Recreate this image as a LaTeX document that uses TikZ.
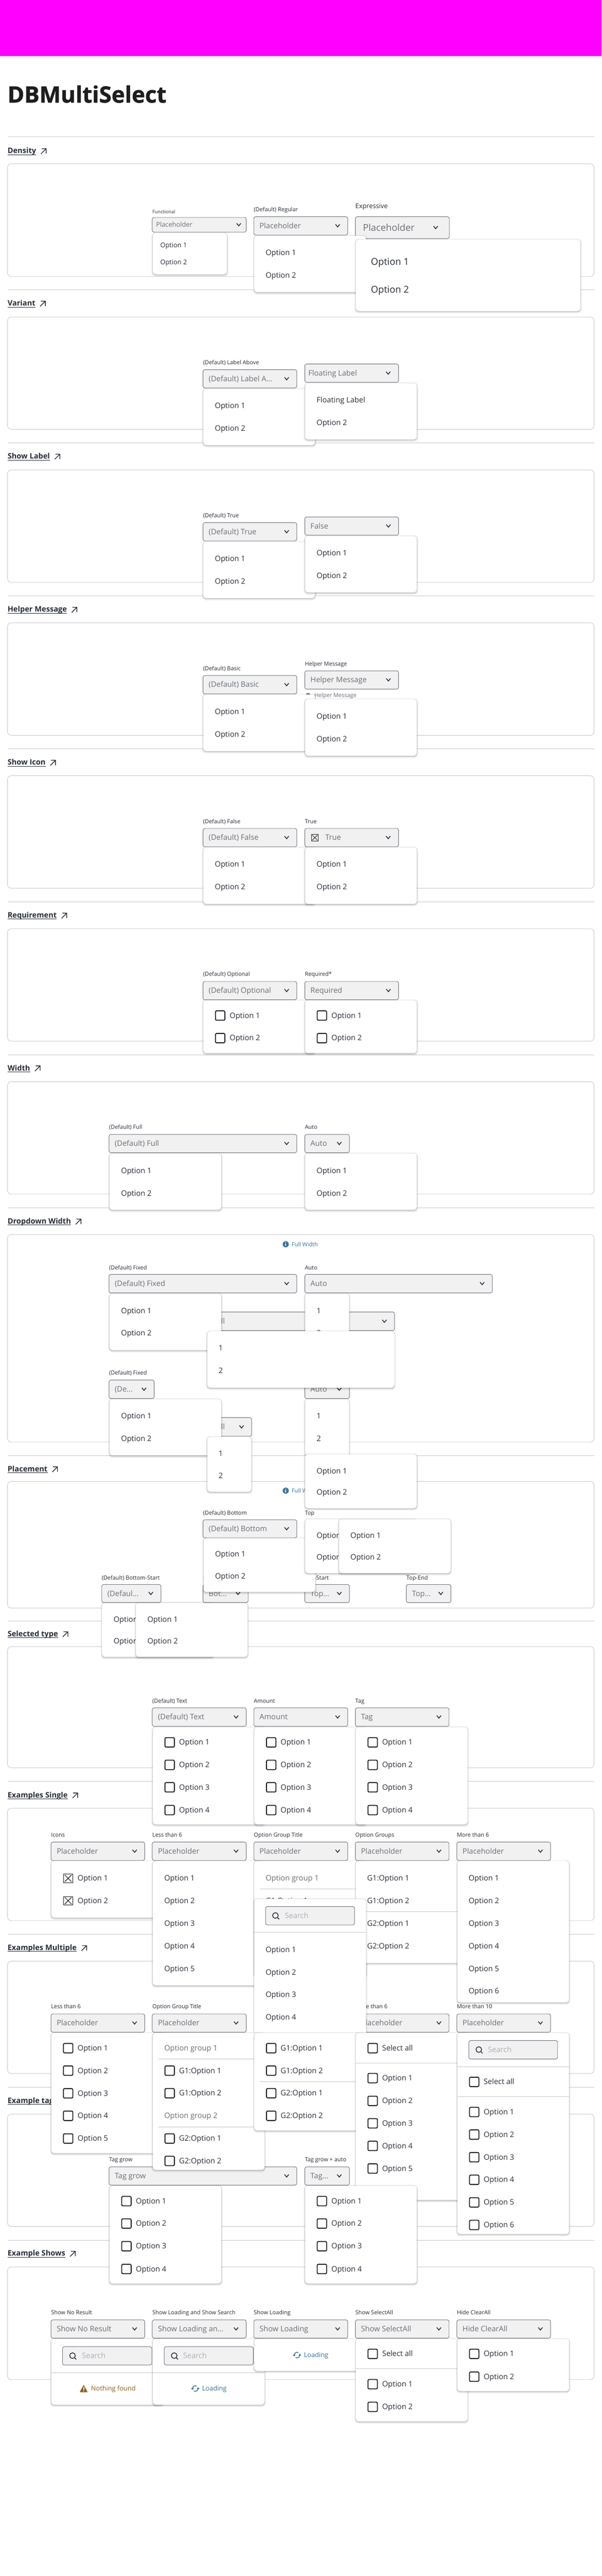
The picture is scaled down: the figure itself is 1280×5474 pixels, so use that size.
\documentclass[tikz,border=0pt]{standalone}
\usepackage{fontspec}
\setmainfont{Open Sans}
\definecolor{ink}{HTML}{282D37}
\definecolor{ph}{HTML}{6B6E75}
\definecolor{rulecol}{HTML}{C8C9CF}
\definecolor{fieldcol}{HTML}{F1F1F2}
\definecolor{fieldline}{HTML}{6E727A}
\definecolor{infocol}{HTML}{3A7595}
\definecolor{warncol}{HTML}{8F611C}
\definecolor{bandcol}{HTML}{FF00FF}
\definecolor{titlecol}{HTML}{1E1E1E}
\tikzset{
  x=1pt,y=-1pt,
  rulestyle/.style={draw=rulecol,line width=1pt},
  panelbox/.style={draw=rulecol,line width=1pt,rounded corners=8pt,fill=white},
  fieldbox/.style={draw=fieldline,line width=1pt,rounded corners=4pt,fill=fieldcol},
  popbox/.style={fill=white,rounded corners=7pt},
  chevstyle/.style={draw=ink,line width=1.7pt},
  tickbox/.style={draw=black!88,line width=2pt,rounded corners=2.5pt,fill=white},
  xbox/.style={draw=black!88,line width=1pt},
}
% text: x, y centre, size, colour, text
\newcommand{\Tx}[5]{\node[anchor=base west,inner sep=0pt,text=#4,font=\fontsize{#3}{#3}\selectfont] at (#1,{#2+0.34*#3}) {#5};}
\newcommand{\labx}[3]{\Tx{#1}{#2}{12}{ink}{#3}}
\newcommand{\srule}[1]{\draw[rulestyle] (16,#1) -- (1264,#1);}
\newcommand{\panelx}[2]{\draw[panelbox] (16,#1) rectangle (1264,#2);}
\newcommand{\headx}[2]{%
  \node[anchor=base west,inner sep=0pt,text=ink,font=\fontsize{16}{16}\selectfont\bfseries] (hd) at (16,{#1+5}) {#2};
  \draw[ink,line width=1pt] ([yshift=-2.6pt]hd.base west) -- ([yshift=-2.6pt]hd.base east);
  \draw[ink,line width=1.5pt] ([xshift=10pt,yshift=-1pt]hd.base east) -- ([xshift=21pt,yshift=10pt]hd.base east) ([xshift=11.5pt,yshift=10pt]hd.base east) -- ([xshift=21pt,yshift=10pt]hd.base east) -- ([xshift=21pt,yshift=-.5pt]hd.base east);
}
\newcommand{\chvx}[3]{\draw[chevstyle] ({#1-#3},{#2-#3*0.6}) -- (#1,{#2+#3*0.6}) -- ({#1+#3},{#2-#3*0.6});}
% general dropdown: x1 x2 y1 y2 text textoffset chevoffset size
\newcommand{\DDn}[8]{%
  \draw[fieldbox] (#1,#3) rectangle (#2,#4);
  \Tx{#1+#6}{(#3+#4)/2}{#8}{ph}{#5}
  \chvx{#2-#7}{(#3+#4)/2-0.5}{4.5}
}
\newcommand{\ddn}[5]{\DDn{#1}{#2}{#3}{#4}{#5}{12}{21.6}{16}}
\newcommand{\popx}[4]{%
  \fill[black,opacity=.035,rounded corners=9pt] ({#1-3},{#3-2}) rectangle ({#2+3},{#4+5});
  \fill[black,opacity=.05,rounded corners=8pt] ({#1-2},{#3-1}) rectangle ({#2+2},{#4+4});
  \fill[black,opacity=.07,rounded corners=8pt] ({#1-1},{#3}) rectangle ({#2+1},{#4+2.5});
  \fill[black,opacity=.10,rounded corners=7pt] ({#1-.4},{#3}) rectangle ({#2+.4},{#4+1.2});
  \fill[popbox] (#1,#3) rectangle (#2,#4);
}
\newcommand{\optx}[3]{\Tx{#1}{#2}{16}{ink}{#3}}
\newcommand{\popTwo}[5]{% x1 y1 y2 ya yb  (width 238)
  \popx{#1}{#1+238}{#2}{#3}
  \optx{#1+24.5}{#4}{Option 1}
  \optx{#1+24.5}{#5}{Option 2}
}
\newcommand{\chkx}[2]{\draw[tickbox] ({#1-10},{#2-10}) rectangle ({#1+10},{#2+10});}
\newcommand{\coptx}[3]{\chkx{#1+36}{#2}\optx{#1+56}{#2}{#3}}
\newcommand{\xicx}[2]{%
  \draw[xbox] ({#1-9.5},{#2-9}) rectangle ({#1+9.5},{#2+9});
  \draw[black!88,line width=1.2pt] ({#1-7},{#2-7}) -- ({#1+7},{#2+7}) ({#1+7},{#2-7}) -- ({#1-7},{#2+7});
}
\newcommand{\dvx}[3]{\draw[rulestyle] (#1,#3) -- (#2,#3);}
\newcommand{\srchx}[6]{% x1 x2 y1 y2 iconx textx
  \draw[fieldbox] (#1,#3) rectangle (#2,#4);
  \draw[ink,line width=1.6pt] (#5,{(#3+#4)/2-.5}) circle (6);
  \draw[ink,line width=1.6pt] ({#5+4},{(#3+#4)/2+3.5}) -- ({#5+8},{(#3+#4)/2+7.5});
  \Tx{#6}{(#3+#4)/2}{16}{ph!55}{Search}
}
\newcommand{\ldingx}[2]{%
  \draw[infocol,line width=1.6pt] ({#1-6},#2) arc (180:300:6) ({#1+6},#2) arc (0:120:6);
  \fill[infocol] ({#1+6},{#2-3}) -- ({#1+3},{#2+1}) -- ({#1+9},{#2+1}) -- cycle;
  \fill[infocol] ({#1-6},{#2+3}) -- ({#1-3},{#2-1}) -- ({#1-9},{#2-1}) -- cycle;
}
\newcommand{\infoiconx}[2]{%
  \fill[infocol] (#1,#2) circle (6.5);
  \fill[white] (#1,{#2-3.4}) circle (1);
  \fill[white] ({#1-1},{#2-1.2}) rectangle ({#1+1},{#2+3.6});
}
\begin{document}
\begin{tikzpicture}
\useasboundingbox (0,0) rectangle (1280,5474);
\fill[white] (0,0) rectangle (1280,5474);
\fill[bandcol] (0,0) rectangle (1280,119);
\node[anchor=base west,inner sep=0pt,text=titlecol,font=\fontsize{48}{48}\selectfont\bfseries\addfontfeature{FakeBold=1.2}] at (16,218) {DBMultiSelect};

% ---------- backgrounds ----------
\foreach \yy in {291,616,941.4,1266.4,1591.6,1916.6,2241.4,2566.4,3093,3444.7,3785.4,4110.4,4435.4,4760.4} {\srule{\yy}}
\panelx{348}{587.6}\panelx{673.6}{912.4}\panelx{998.6}{1237.4}\panelx{1323.4}{1562.6}
\panelx{1648.4}{1887.6}\panelx{1973.6}{2212.4}\panelx{2298.6}{2537.4}\panelx{2623.2}{3064.3}
\panelx{3148}{3417}\panelx{3499}{3756.4}\panelx{3842.5}{4081.4}\panelx{4167.5}{4406.3}
\panelx{4492.5}{4731.3}\panelx{4817.2}{5056.5}
\headx{321}{Density}\headx{645}{Variant}\headx{970}{Show Label}\headx{1295.5}{Helper Message}
\headx{1620.6}{Show Icon}\headx{1945.4}{Requirement}\headx{2270}{Width}\headx{2595.6}{Dropdown Width}
\headx{3122}{Placement}\headx{3472.4}{Selected type}\headx{3815}{Examples Single}
\headx{4139.4}{Examples Multiple}\headx{4464.4}{Example tags}\headx{4789}{Example Shows}

% ---------- labels and fields ----------
% Density
\Tx{324}{450}{10}{ink}{Functional}
\DDn{324}{524}{462}{493.5}{Placeholder}{8}{16}{14}
\labx{540}{445}{(Default) Regular}
\ddn{540}{740}{460.5}{499.5}{Placeholder}
\Tx{756}{438}{14}{ink}{Expressive}
\DDn{756}{956}{460.5}{507}{Placeholder}{16}{29}{20}
% Variant
\labx{432}{770.4}{(Default) Label Above}
\ddn{432}{631.5}{785.6}{824.5}{(Default) Label A...}
\DDn{648.5}{848}{773.6}{812.4}{Floating Label}{7.5}{22}{16}
% Show Label
\labx{432}{1095.4}{(Default) True}
\ddn{432}{631.5}{1110.6}{1149.5}{(Default) True}
\ddn{648.5}{848}{1098.6}{1137.4}{False}
% Helper
\labx{432}{1420.6}{(Default) Basic}
\ddn{432}{631.5}{1435.4}{1474.6}{(Default) Basic}
\labx{648.5}{1410.4}{Helper Message}
\ddn{648.5}{848}{1425.5}{1464.4}{Helper Message}
\fill[ph] (655.5,1478) circle (5.5);
\Tx{668.6}{1478}{12}{ph}{Helper Message}
% Show Icon
\labx{432}{1745.6}{(Default) False}
\ddn{432}{631.5}{1760.4}{1799.6}{(Default) False}
\labx{648.5}{1745.6}{True}
\DDn{648.5}{848}{1760.4}{1799.6}{True}{43.5}{22}{16}
\draw[xbox] (663,1773) rectangle (677,1787);
\draw[black!88,line width=1pt] (664.5,1774.5) -- (675.5,1785.5) (675.5,1774.5) -- (664.5,1785.5);
% Requirement
\labx{432}{2070.4}{(Default) Optional}
\ddn{432}{631.5}{2085.6}{2124.5}{(Default) Optional}
\labx{648.5}{2070.4}{Required*}
\ddn{648.5}{848}{2085.6}{2124.5}{Required}
% Width
\labx{232}{2395.4}{(Default) Full}
\ddn{232}{631.5}{2410.6}{2449.5}{(Default) Full}
\labx{648.5}{2395.4}{Auto}
\ddn{648.5}{743.5}{2410.6}{2449.5}{Auto}
% Dropdown Width
\infoiconx{608}{2644}
\Tx{620.4}{2645}{12}{infocol}{Full Width}
\labx{232}{2693.6}{(Default) Fixed}
\ddn{232}{631.5}{2708}{2747.5}{(Default) Fixed}
\labx{648.5}{2693.6}{Auto}
\ddn{648.5}{1047.5}{2708}{2747.5}{Auto}
\ddn{440}{839.5}{2788}{2827.5}{Full}
\labx{232}{2917.5}{(Default) Fixed}
\ddn{232}{328}{2932.5}{2972}{(De...}
\ddn{648.5}{743.5}{2932.5}{2972}{Auto}
\ddn{440}{535.5}{3012.5}{3052}{Full}
% Placement
\infoiconx{608}{3167.6}
\Tx{620.4}{3168.6}{12}{infocol}{Full Width}
\labx{432}{3215}{(Default) Bottom}
\labx{648.5}{3215}{Top}
\ddn{432}{631.5}{3229.5}{3268}{(Default) Bottom}
\labx{216.3}{3353}{(Default) Bottom-Start}
\ddn{216.5}{342.5}{3367}{3405.5}{(Defaul...}
\labx{432}{3353}{Bottom-End}
\ddn{432}{528}{3367}{3405.5}{Bot...}
\labx{648.5}{3353}{Top-Start}
\ddn{648.5}{743.5}{3367}{3405.5}{Top...}
\labx{864.5}{3353}{Top-End}
\ddn{864.5}{959.5}{3367}{3405.5}{Top...}
% Selected type
\labx{324}{3614.3}{(Default) Text}\labx{540}{3614.3}{Amount}\labx{756}{3614.3}{Tag}
\ddn{324}{524}{3629}{3668.5}{(Default) Text}
\ddn{540}{740}{3629}{3668.5}{Amount}
\ddn{756}{955.5}{3629}{3668.5}{Tag}
% Examples Single
\labx{108.5}{3899.3}{Icons}\labx{324}{3899.3}{Less than 6}\labx{540}{3899.3}{Option Group Title}
\labx{756}{3899.3}{Option Groups}\labx{972}{3899.3}{More than 6}
\foreach \xa/\xb in {108.5/308,324/524,540/740,756/955.5,972/1171.5} {\ddn{\xa}{\xb}{3914.3}{3953.5}{Placeholder}}
% Examples Multiple
\labx{108.5}{4264.4}{Less than 6}\labx{324}{4264.4}{Option Group Title}
\labx{756}{4264.4}{More than 6}\labx{972}{4264.4}{More than 10}
\foreach \xa/\xb in {108.5/308,324/524,756/955.5,972/1171.5} {\ddn{\xa}{\xb}{4279.5}{4318.4}{Placeholder}}
% Tags
\labx{232}{4589.4}{Tag grow}\labx{648.5}{4589.4}{Tag grow + auto}
\ddn{232}{631.5}{4604.5}{4643.4}{Tag grow}
\ddn{648.5}{743.5}{4604.5}{4643.4}{Tag...}
% Shows
\labx{108.5}{4914}{Show No Result}\labx{324}{4914}{Show Loading and Show Search}\labx{540}{4914}{Show Loading}
\labx{756}{4914}{Show SelectAll}\labx{972}{4914}{Hide ClearAll}
\ddn{108.5}{308}{4929.6}{4968.5}{Show No Result}
\ddn{324}{524}{4929.6}{4968.5}{Show Loading an...}
\ddn{540}{740}{4929.6}{4968.5}{Show Loading}
\ddn{756}{955.5}{4929.6}{4968.5}{Show SelectAll}
\ddn{972}{1171.5}{4929.6}{4968.5}{Hide ClearAll}

% ---------- popups in document order ----------
% Density
\popx{325}{483}{495}{583}
\Tx{341}{521}{14}{ink}{Option 1}\Tx{341}{557}{14}{ink}{Option 2}
\popx{541}{779}{501}{621}
\optx{565}{537}{Option 1}\optx{565}{585}{Option 2}
\popx{757}{1235}{509}{661}
\Tx{789}{556}{20}{ink}{Option 1}\Tx{789}{616}{20}{ink}{Option 2}
% Variant
\popTwo{432.5}{826}{946}{862.4}{910.6}
\popx{649}{887}{814}{934}
\optx{673.5}{850.4}{Floating Label}\optx{673.5}{898.4}{Option 2}
% Show Label
\popTwo{432.5}{1151}{1271}{1187.4}{1235.6}
\popTwo{649}{1139}{1259}{1175.4}{1223.4}
% Helper
\popTwo{432.5}{1476}{1596}{1512.6}{1560.4}
\popTwo{649}{1485.8}{1606}{1522.4}{1570.6}
% Show Icon
\popTwo{432.5}{1800.5}{1921}{1837}{1885}
\popTwo{649}{1800.5}{1921}{1837}{1885}
% Requirement
\popx{432.5}{670.5}{2125.5}{2238}
\coptx{432.5}{2158}{Option 1}\coptx{432.5}{2206}{Option 2}
\popx{649}{887}{2125.5}{2238}
\coptx{649}{2158}{Option 1}\coptx{649}{2206}{Option 2}
% Width
\popTwo{233}{2451}{2571}{2487.4}{2535.6}
\popTwo{649}{2451}{2571}{2487.4}{2535.6}
% Dropdown Width
\popTwo{233}{2748.6}{2869}{2785.4}{2833}
\popx{649}{743}{2748.6}{2869}
\optx{673.5}{2785.4}{1}\optx{673.5}{2833}{2}
\popx{441}{839.5}{2829}{2949}
\optx{465}{2865}{1}\optx{465}{2913}{2}
\popTwo{233}{2973}{3093}{3009}{3057}
\popx{649}{743}{2973}{3093}
\optx{673.5}{3009}{1}\optx{673.5}{3057}{2}
\popx{441}{535}{3053}{3170}
\optx{465}{3089}{1}\optx{465}{3136.5}{2}
% Placement
\popTwo{649}{3090}{3205}{3126}{3171}
\popTwo{433}{3268.4}{3383}{3303}{3349}
\popTwo{649}{3228}{3343}{3263}{3309}
\popTwo{721}{3228}{3343}{3263}{3309}
\popTwo{217}{3406}{3521}{3441}{3487}
\popTwo{289}{3406}{3521}{3441}{3487}
% Selected type
\foreach \xa in {325,541,757} {
  \popx{\xa}{\xa+238}{3670}{3877}
  \coptx{\xa}{3702.5}{Option 1}\coptx{\xa}{3750.4}{Option 2}
  \coptx{\xa}{3798}{Option 3}\coptx{\xa}{3846.4}{Option 4}
}
% Examples Single
\popx{109}{347}{3954.6}{4075}
\xicx{145}{3991.4}\Tx{165}{3991.4}{16}{ink}{Option 1}
\xicx{145}{4039}\Tx{165}{4039}{16}{ink}{Option 2}
\popx{325}{563}{3954.6}{4219}
\optx{349.4}{3991.4}{Option 1}\optx{349.4}{4039}{Option 2}\optx{349.4}{4087}{Option 3}
\optx{349.4}{4135.4}{Option 4}\optx{349.4}{4183.6}{Option 5}
\popx{541}{779}{3954.6}{4200}
\Tx{565}{3991.4}{16}{ph}{Option group 1}
\dvx{553}{779}{4014.3}
\optx{565}{4039}{G1:Option 1}
\popx{757}{995}{3954.6}{4171.5}
\optx{781}{3991.4}{G1:Option 1}\optx{781}{4039}{G1:Option 2}
\dvx{757}{995}{4062.5}
\optx{781}{4087}{G2:Option 1}\optx{781}{4135.4}{G2:Option 2}
\popx{973}{1211}{3954.6}{4255}
\optx{997}{3991.4}{Option 1}\optx{997}{4039}{Option 2}\optx{997}{4087}{Option 3}
\optx{997}{4135.4}{Option 4}\optx{997}{4183.6}{Option 5}\optx{997}{4231.3}{Option 6}
\popx{541}{779}{4035}{4330}
\srchx{565}{754.5}{4051.4}{4090.4}{586}{606}
\dvx{541}{779}{4106.4}
\optx{565}{4143.4}{Option 1}\optx{565}{4191}{Option 2}\optx{565}{4239}{Option 3}\optx{565}{4287}{Option 4}
% Examples Multiple
\popx{109}{347}{4319.7}{4575.5}
\coptx{109}{4352.3}{Option 1}\coptx{109}{4400}{Option 2}\coptx{109}{4448.3}{Option 3}
\coptx{109}{4496}{Option 4}\coptx{109}{4544.3}{Option 5}
\popx{325}{563}{4319.7}{4611}
\Tx{349.4}{4352.3}{16}{ph}{Option group 1}
\dvx{337}{563}{4375.5}
\coptx{325}{4400}{G1:Option 1}\coptx{325}{4448}{G1:Option 2}
\Tx{349.4}{4496}{16}{ph}{Option group 2}
\dvx{337}{563}{4519.7}
\coptx{325}{4544.3}{G2:Option 1}\coptx{325}{4592}{G2:Option 2}
\popx{541}{779}{4319.7}{4527.3}
\coptx{541}{4352.3}{G1:Option 1}\coptx{541}{4400}{G1:Option 2}
\dvx{553}{779}{4423.3}
\coptx{541}{4448}{G2:Option 1}\coptx{541}{4496}{G2:Option 2}
\popx{757}{995}{4319.7}{4675}
\coptx{757}{4352.3}{Select all}
\dvx{757}{995}{4383.6}
\coptx{757}{4416}{Option 1}\coptx{757}{4464.4}{Option 2}\coptx{757}{4512}{Option 3}
\coptx{757}{4560}{Option 4}\coptx{757}{4608}{Option 5}
\popx{973}{1211}{4319.7}{4747.4}
\srchx{997.5}{1186.5}{4336}{4375.5}{1018.8}{1038}
\dvx{973}{1211}{4391.6}
\coptx{973}{4424}{Select all}
\dvx{973}{1211}{4455.5}
\coptx{973}{4488}{Option 1}\coptx{973}{4536}{Option 2}\coptx{973}{4584}{Option 3}
\coptx{973}{4632}{Option 4}\coptx{973}{4680}{Option 5}\coptx{973}{4728}{Option 6}
% Tags
\foreach \xa in {233,649} {
  \popx{\xa}{\xa+238}{4644.7}{4852.4}
  \coptx{\xa}{4677.3}{Option 1}\coptx{\xa}{4725}{Option 2}
  \coptx{\xa}{4773.2}{Option 3}\coptx{\xa}{4821.5}{Option 4}
}
% Shows
\popx{109}{347}{4970}{5110}
\srchx{133}{323}{4986.7}{5025.6}{154.3}{174}
\dvx{109}{347}{5041.5}
\fill[warncol,rounded corners=1pt] (178,5067.5) -- (186.5,5083.5) -- (169.5,5083.5) -- cycle;
\fill[white] (177,5072.5) rectangle (179,5078.5);
\fill[white] (178,5080.8) circle (1.1);
\Tx{193.5}{5075.7}{14}{warncol}{Nothing found}
\popx{325}{563}{4970}{5110}
\srchx{349.4}{539}{4986.7}{5025.6}{370.6}{389.4}
\dvx{325}{563}{5041.5}
\ldingx{415.5}{5075.7}
\Tx{430}{5075.7}{14}{infocol}{Loading}
\popx{541}{779}{4970}{5038}
\ldingx{632}{5004.5}
\Tx{646.5}{5004.5}{14}{infocol}{Loading}
\popx{757}{995}{4970}{5145.4}
\coptx{757}{5002}{Select all}
\dvx{757}{995}{5033.5}
\coptx{757}{5066.3}{Option 1}\coptx{757}{5114.5}{Option 2}
\popx{973}{1211}{4970}{5081}
\coptx{973}{5002}{Option 1}\coptx{973}{5050.4}{Option 2}
\end{tikzpicture}
\end{document}
